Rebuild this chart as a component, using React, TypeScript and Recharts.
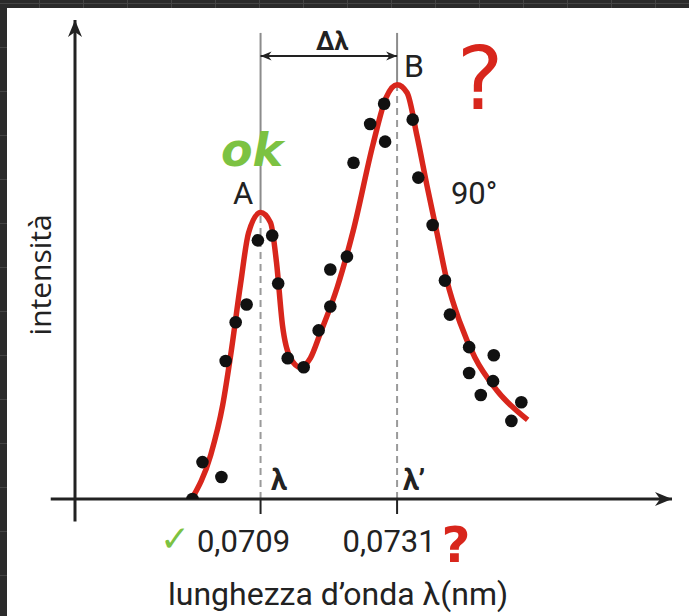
import React from 'react';
import { ComposedChart, Line, Scatter, XAxis, YAxis, ReferenceLine, ReferenceDot } from 'recharts';

// fitted curve (red)
const fitLambda = [
  0.069792, 0.070097, 0.07029, 0.070418, 0.070579, 0.070707, 0.0709, 0.071061, 0.071157, 0.071253,
  0.071382, 0.071542, 0.071703, 0.071863, 0.072136, 0.072393, 0.072715, 0.072923, 0.0731, 0.073261,
  0.073421, 0.073582, 0.073742, 0.073903, 0.074112, 0.074352, 0.074706, 0.075204,
];
const fitIntensity = [
  0, 9.2, 19.6, 30.0, 45.0, 55.6, 59.8, 57.7, 49.4, 36.3,
  29.4, 27.5, 29.4, 34.6, 44.2, 56.0, 74.2, 83.8, 86.5, 84.8,
  75.8, 65.4, 55.6, 45.6, 36.9, 29.6, 22.7, 16.5,
];

// measured points (black dots)
const dotLambda = [
  0.069803, 0.069964, 0.070269, 0.070338, 0.070499, 0.070675, 0.070857, 0.071088, 0.071184, 0.071338,
  0.071595, 0.071836, 0.072024, 0.072024, 0.072292, 0.072398, 0.072666, 0.072891, 0.072907, 0.073352,
  0.073442, 0.073673, 0.073871, 0.073951, 0.074261, 0.074261, 0.074449, 0.074646, 0.074658, 0.074942,
  0.075102,
];
const dotIntensity = [
  0, 7.7, 4.6, 28.8, 36.9, 40.6, 54.0, 55.0, 45.0, 29.4,
  27.5, 35.2, 40.2, 47.9, 50.6, 70.2, 78.3, 82.5, 74.6, 79.2,
  67.1, 57.2, 45.6, 38.5, 31.7, 26.3, 21.7, 24.6, 30.0, 16.3,
  20.2,
];

const tickValues = [0.0709, 0.0731];
const tickLabels = ['0,0709', '0,0731'];
const peakIntensity = [59.8, 86.5];

const fitData = fitLambda.map((x, i) => ({ x, y: fitIntensity[i] }));
const dotData = dotLambda.map((x, i) => ({ x, y: dotIntensity[i] }));

const X_MIN = 0.06791;
const X_MAX = 0.07753;
const INK = '#222';
const RED = '#d8261c';
const GREY = '#8c8c8c';
const GREEN = '#7cc242';

const arrowShape = (both: boolean, len: number, half: number, width: number) => (p: any) => {
  const { x1, y1, x2, y2 } = p;
  const head = (tx: number, ty: number, fx: number, fy: number) => {
    const a = Math.atan2(ty - fy, tx - fx);
    const c = Math.cos(a);
    const s = Math.sin(a);
    const bx = tx - len * c;
    const by = ty - len * s;
    const nx = tx - len * 0.7 * c;
    const ny = ty - len * 0.7 * s;
    return (
      <polygon
        points={`${tx},${ty} ${bx - s * half},${by + c * half} ${nx},${ny} ${bx + s * half},${by - c * half}`}
        fill={INK}
      />
    );
  };
  return (
    <g>
      <line x1={x1} y1={y1} x2={x2} y2={y2} stroke={INK} strokeWidth={width} />
      {head(x2, y2, x1, y1)}
      {both && head(x1, y1, x2, y2)}
    </g>
  );
};

const TickLabel = (props: any) => {
  const { x, y, index } = props;
  const shift = [-17, -8][index] ?? 0;
  return (
    <text x={x + shift} y={y} dy={36} textAnchor="middle" fontFamily="Roboto" fontSize={31} fill={INK}>
      {tickLabels[index]}
    </text>
  );
};

const note = (key: string, x: number, y: number, value: string, style: any) => (
  <ReferenceDot
    key={key}
    x={x}
    y={y}
    r={1}
    fill="none"
    stroke="none"
    ifOverflow="visible"
    label={{ value, position: 'center', ...style }}
  />
);

const txt = { fontFamily: 'Roboto', fontSize: 31, fill: INK };

export default function App() {
  return (
    <div
      style={{
        position: 'absolute',
        left: 0,
        top: 0,
        width: 689,
        height: 616,
        background: '#2b2b2b',
        backgroundImage:
          'repeating-linear-gradient(90deg, transparent 0 39px, #454545 39px 40px, transparent 40px 44px), repeating-linear-gradient(0deg, transparent 0 40px, #454545 40px 41px, transparent 41px 44px)',
        overflow: 'hidden',
      }}
    >
      <div style={{ position: 'absolute', left: 7, top: 8, right: 0, bottom: 0, background: '#fff' }} />
      <div style={{ position: 'absolute', left: 0, top: 0 }}>
        <ComposedChart width={689} height={616} margin={{ top: 20, right: 17, bottom: 0, left: 75 }}>
          <XAxis
            dataKey="x"
            type="number"
            domain={[X_MIN, X_MAX]}
            allowDataOverflow
            ticks={tickValues}
            height={117}
            axisLine={false}
            tickSize={15}
            tickLine={{ stroke: INK, strokeWidth: 2 }}
            tick={<TickLabel />}
          />
          <YAxis dataKey="y" type="number" domain={[0, 100]} allowDataOverflow hide />

          {/* vertical guides at the two peaks */}
          {tickValues.map((t, i) => (
            <ReferenceLine
              key={'d' + i}
              segment={[{ x: t, y: 0 }, { x: t, y: peakIntensity[i] }]}
              stroke="#9a9a9a"
              strokeWidth={2}
              strokeDasharray="7 5"
              ifOverflow="visible"
            />
          ))}
          {tickValues.map((t, i) => (
            <ReferenceLine
              key={'s' + i}
              segment={[{ x: t, y: 97.3 }, { x: t, y: peakIntensity[i] }]}
              stroke={GREY}
              strokeWidth={2}
              ifOverflow="visible"
            />
          ))}
          <ReferenceLine
            segment={[{ x: tickValues[0], y: 92.5 }, { x: tickValues[1], y: 92.5 }]}
            ifOverflow="visible"
            shape={arrowShape(true, 11, 4.5, 2)}
          />

          {/* axes with arrows */}
          <ReferenceLine
            segment={[{ x: 0.067519, y: 0 }, { x: X_MAX, y: 0 }]}
            ifOverflow="visible"
            shape={arrowShape(false, 17, 7, 3)}
          />
          <ReferenceLine
            segment={[{ x: X_MIN, y: -4.7 }, { x: X_MIN, y: 100 }]}
            ifOverflow="visible"
            shape={arrowShape(false, 17, 7, 3)}
          />

          <Line
            data={fitData}
            dataKey="y"
            type="monotone"
            stroke={RED}
            strokeWidth={5.5}
            dot={false}
            activeDot={false}
            isAnimationActive={false}
          />
          <Scatter
            data={dotData}
            dataKey="y"
            isAnimationActive={false}
            shape={(p: any) => <circle cx={p.cx} cy={p.cy} r={6.3} fill="#111" />}
          />

          {note('A', 0.070618, 63.9, 'A', txt)}
          {note('B', 0.073374, 90.4, 'B', { ...txt, fontSize: 32 })}
          {note('deg', 0.074341, 63.9, '90°', txt)}
          {note('dl', 0.072052, 95.6, 'Δλ', { ...txt, fontSize: 25, fontWeight: 700 })}
          {note('l1', 0.071198, 3.97, 'λ', { ...txt, fontSize: 29, fontWeight: 700 })}
          {note('l2', 0.073374, 3.97, 'λ\u2019', { ...txt, fontSize: 29, fontWeight: 700 })}
          {note('title', 0.072149, -19.8, 'lunghezza d\u2019onda λ(nm)', { ...txt, fontSize: 32 })}
          {note('yt', 0.067346, 46.8, 'intensità', { fontFamily: 'Open Sans', fontSize: 30, fill: INK, angle: -90 })}

          {/* handwritten marks */}
          {note('ok', 0.070763, 72.9, 'ok', { fontFamily: 'DejaVu Sans', fontSize: 46, fontWeight: 700, fontStyle: 'italic', fill: GREEN })}
          {note('q1', 0.074438, 87.9, '?', { fontFamily: 'DejaVu Sans', fontSize: 88, fill: RED })}
          {note('chk', 0.069522, -8.1, '✓', { fontFamily: 'DejaVu Sans', fontSize: 36, fontWeight: 700, fill: GREEN })}
          {note('q2', 0.074051, -9.4, '?', { fontFamily: 'DejaVu Sans', fontSize: 50, fontWeight: 700, fill: RED })}
        </ComposedChart>
      </div>
    </div>
  );
}
